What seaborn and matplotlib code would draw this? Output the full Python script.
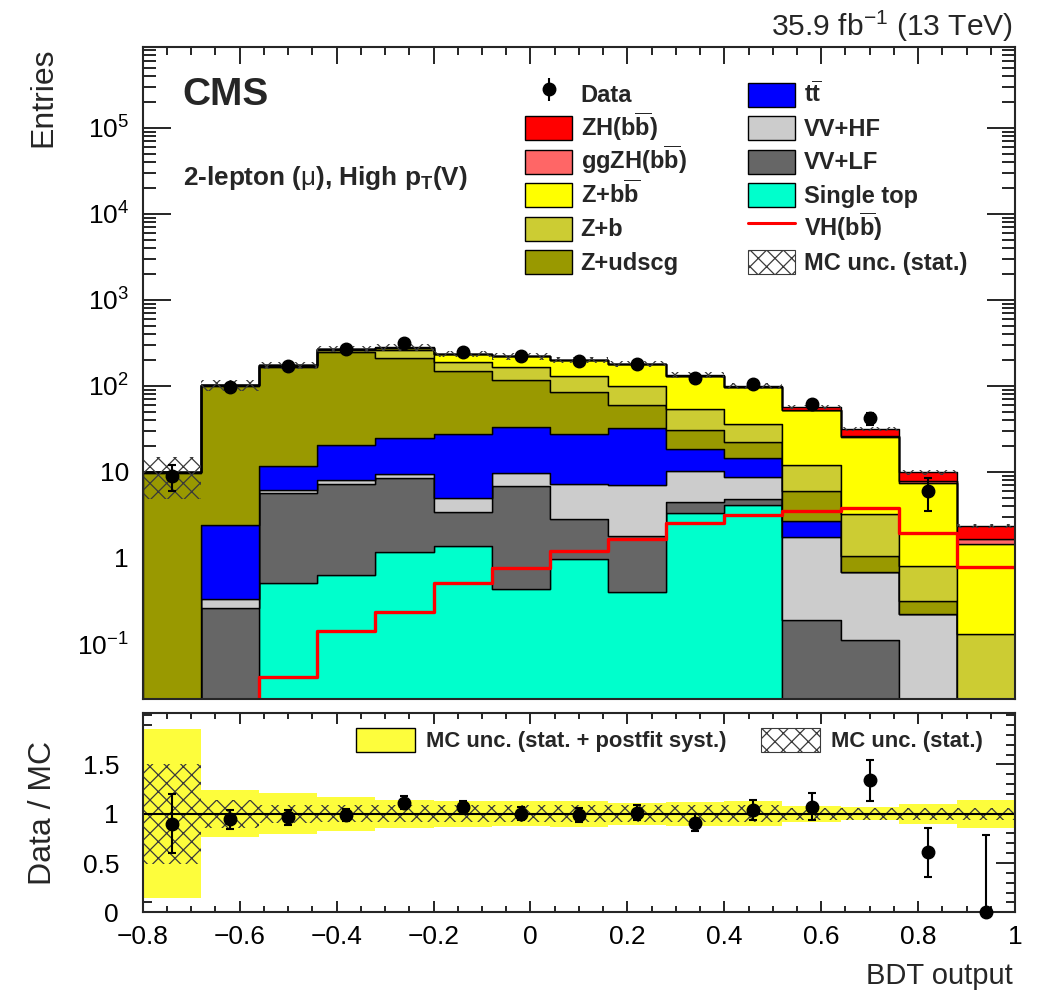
import numpy as np
import pandas as pd
import matplotlib
matplotlib.use("Agg")
import matplotlib.pyplot as plt
from matplotlib.patches import Patch, Rectangle
from matplotlib.lines import Line2D
from matplotlib.legend_handler import HandlerPatch
from matplotlib.ticker import MultipleLocator, FixedLocator, FuncFormatter, LogLocator, NullFormatter
import seaborn as sns

# ---------------------------------------------------------------- binning
bin_edges = [-0.8, -0.68, -0.56, -0.44, -0.32, -0.2, -0.08, 0.04, 0.16,
             0.28, 0.4, 0.52, 0.64, 0.76, 0.88, 1.0]

# ---------------------------------------------------------------- post-fit yields per bin
zh_bb      = [0, 0, 0.04, 0.13, 0.2, 0.45, 0.7, 1.1, 1.5, 2.3, 2.8, 4.3, 5.0, 2.0, 0.71]
ggzh_bb    = [0, 0, 0.01, 0.02, 0.03, 0.06, 0.1, 0.15, 0.2, 0.3, 0.35, 0.5, 0.6, 0.47, 0.21]
z_bb       = [0.1, 0.5, 3.0, 8.0, 17.0, 47.0, 54.0, 67.7, 77.3, 77.8, 60.3, 40.2, 22.5, 6.58, 1.31]
z_b        = [0.2, 1.2, 5.0, 15.0, 54.0, 40.0, 49.0, 47.3, 40.3, 22.8, 14.2, 6.0, 2.23, 0.49, 0.13]
z_udscg    = [9.7, 97.6, 154.3, 224.4, 183.2, 119.8, 83.6, 56.3, 26.9, 12.1, 7.9, 3.32, 0.37, 0.09, 0]
ttbar      = [0, 2.08, 5.5, 12.6, 15.4, 22.3, 23.7, 20.1, 25.7, 8.4, 5.65, 0.92, 0, 0, 0]
vv_hf      = [0, 0.072, 0.41, 0.67, 0.95, 1.55, 2.79, 4.51, 5.26, 5.8, 3.93, 1.58, 0.57, 0.225, 0]
vv_lf      = [0, 0.265, 5.25, 6.7, 7.28, 2.03, 6.43, 1.85, 1.4, 1.11, 0.72, 0.19, 0.11, 0, 0]
single_top = [0, 0, 0.51, 0.63, 1.17, 1.37, 0.44, 0.97, 0.4, 3.37, 4.1, 0, 0, 0, 0]

# unstacked signal template
vh_bb = [0, 0, 0.041, 0.14, 0.234, 0.508, 0.773, 1.2, 1.68, 2.58, 3.16, 3.49, 3.78, 1.94, 0.79]

# observed events
data_counts = [9, 96, 168, 265, 311, 250, 221, 197, 181, 122, 104, 61, 42, 6, 0]
zero_count_upper = 1.84  # Poisson upper error for an empty bin

# relative MC uncertainties
mc_stat_unc = [0.51, 0.14, 0.09, 0.085, 0.085, 0.085, 0.085, 0.085, 0.085, 0.085, 0.085, 0.06, 0.06, 0.06, 0.06]
mc_syst_unc = [0.86, 0.24, 0.21, 0.17, 0.14, 0.13, 0.125, 0.13, 0.11, 0.12, 0.125, 0.08, 0.065, 0.10, 0.14]

# processes, listed from top of the stack to the bottom
process_keys = ["zh", "ggzh", "zbb", "zb", "zudscg", "tt", "vvhf", "vvlf", "stop"]
process_yields = [zh_bb, ggzh_bb, z_bb, z_b, z_udscg, ttbar, vv_hf, vv_lf, single_top]
process_labels = [r"ZH(b$\overline{\mathbf{b}}$)", r"ggZH(b$\overline{\mathbf{b}}$)",
                  r"Z+b$\overline{\mathbf{b}}$", "Z+b", "Z+udscg",
                  r"t$\overline{\mathbf{t}}$", "VV+HF", "VV+LF", "Single top"]
process_colors = ["#ff0000", "#ff6666", "#ffff00", "#cccc33", "#999900",
                  "#0000ff", "#cccccc", "#666666", "#00ffcc"]

# ---------------------------------------------------------------- style
sns.set_theme(style="ticks")
plt.rcParams.update({
    "font.family": ["Liberation Sans", "DejaVu Sans"],
    "mathtext.fontset": "custom",
    "mathtext.rm": "Liberation Sans",
    "mathtext.it": "Liberation Sans:italic",
    "mathtext.bf": "Liberation Sans:bold",
    "mathtext.sf": "Liberation Sans",
    "axes.linewidth": 1.5,
    "hatch.linewidth": 0.9,
    "axes.unicode_minus": True,
    "xtick.color": "black",
    "ytick.color": "black",
})

edges = np.array(bin_edges)
centers = 0.5 * (edges[:-1] + edges[1:])
widths = np.diff(edges)
nbins = len(centers)

long_df = pd.DataFrame({
    "bdt": np.tile(centers, len(process_keys)),
    "events": np.concatenate([np.asarray(v, float) for v in process_yields]),
    "process": np.repeat(process_keys, nbins),
})
palette = dict(zip(process_keys, process_colors))

total = np.sum([np.asarray(v, float) for v in process_yields], axis=0)
stat = np.asarray(mc_stat_unc)
syst = np.asarray(mc_syst_unc)
data = np.asarray(data_counts, float)
err_lo = np.sqrt(data)
err_hi = np.where(data > 0, np.sqrt(data), zero_count_upper)

fig = plt.figure(figsize=(10.38, 9.93), dpi=100)
ax = fig.add_axes([0.1375, 0.2958, 0.8404, 0.6566])
rax = fig.add_axes([0.1375, 0.0813, 0.8404, 0.2004])

# ---------------------------------------------------------------- main panel
sns.histplot(data=long_df, x="bdt", weights="events", hue="process",
             hue_order=process_keys, palette=palette, bins=list(bin_edges),
             multiple="stack", element="step", fill=True, alpha=1,
             edgecolor="black", linewidth=1.0, legend=False, ax=ax)

vh_df = pd.DataFrame({"bdt": centers, "events": vh_bb})
sns.histplot(data=vh_df, x="bdt", weights="events", bins=list(bin_edges),
             element="step", fill=False, color="#ff0000", linewidth=2.4, ax=ax)

ax.bar(centers, 2 * stat * total, bottom=total * (1 - stat), width=widths,
       fill=False, hatch="xx", edgecolor="#3a3a3a", linewidth=0)

has_data = data > 0
ax.errorbar(centers[has_data], data[has_data], yerr=np.sqrt(data[has_data]),
            fmt="o", color="black", ms=9, elinewidth=1.5, capsize=3, capthick=1.5)

ax.set_yscale("log")
ax.set_xlim(-0.8, 1.0)
ax.set_ylim(0.0228, 8.6e5)
ax.set_xlabel("")
ax.set_ylabel("Entries", fontsize=23, loc="top")
ax.yaxis.set_label_coords(-0.097, 1.0)

ax.xaxis.set_major_locator(MultipleLocator(0.2))
ax.xaxis.set_minor_locator(MultipleLocator(0.05))
ax.yaxis.set_major_locator(LogLocator(base=10, numticks=20))
ax.yaxis.set_minor_locator(LogLocator(base=10, subs=np.arange(2, 10), numticks=20))
ax.yaxis.set_minor_formatter(NullFormatter())


def log_label(v, pos):
    e = int(round(np.log10(v)))
    if e == 0:
        return "1"
    if e == 1:
        return "10"
    return r"$10^{%d}$" % e


ax.yaxis.set_major_formatter(FuncFormatter(log_label))
ax.tick_params(which="both", direction="in", top=True, right=True,
               labelbottom=False, width=1.2, labelsize=19)
ax.tick_params(axis="y", which="major", length=20, pad=10)
ax.tick_params(axis="y", which="minor", length=9.5)
ax.tick_params(axis="x", which="major", length=12)
ax.tick_params(axis="x", which="minor", length=6)
for s in ax.spines.values():
    s.set_visible(True)

ax.text(0.046, 0.9115, "CMS", transform=ax.transAxes, fontsize=28,
        fontweight="bold", va="baseline")
ax.text(0.046, 0.789, r"2-lepton ($\mathrm{\mu}$), High p$_{\mathbf{T}}$(V)",
        transform=ax.transAxes, fontsize=18.8, fontweight="bold", va="baseline")
fig.text(1013 / 1038, 1 - 36 / 993, r"35.9 fb$^{-1}$ (13 TeV)", ha="right",
         va="baseline", fontsize=21.6)


# legend boxes: fixed-height rectangles centred in a taller row
def make_box(box_em):
    def _box(legend, orig_handle, xdescent, ydescent, width, height, fontsize):
        h = box_em * fontsize
        return Rectangle((-xdescent, -ydescent + (height - h) / 2), width, h)
    return _box


leg_font = {"family": "Liberation Sans", "weight": "bold", "size": 17}
data_proxy = ax.errorbar([np.nan], [np.nan], yerr=[1.0], fmt="o", color="black",
                         ms=9, elinewidth=1.5, capsize=0)
patch_handles = [Patch(facecolor=c, edgecolor="black", linewidth=1.0) for c in process_colors]
col1_handles = [data_proxy] + patch_handles[:5]
col1_labels = ["Data"] + process_labels[:5]
col2_handles = patch_handles[5:] + [
    Line2D([], [], color="#ff0000", linewidth=2.2),
    Patch(facecolor="white", edgecolor="#3a3a3a", hatch="xx", linewidth=0.8),
]
col2_labels = process_labels[5:] + [r"VH(b$\overline{\mathbf{b}}$)", "MC unc. (stat.)"]

leg_kw = dict(prop=leg_font, frameon=False, loc="center left", borderpad=0,
              borderaxespad=0, handlelength=2.0, handleheight=2.0,
              handletextpad=0.35, labelspacing=-0.13,
              handler_map={Patch: HandlerPatch(patch_func=make_box(1.02))})
leg1 = ax.legend(col1_handles, col1_labels, bbox_to_anchor=(0.4383, 0.7988), **leg_kw)
ax.add_artist(leg1)
ax.legend(col2_handles, col2_labels, bbox_to_anchor=(0.6939, 0.7988), **leg_kw)

# ---------------------------------------------------------------- ratio panel
ratio = data / total
rax.bar(centers, 2 * syst, bottom=1 - syst, width=widths, color="#fdfd3c", linewidth=0)
rax.bar(centers, 2 * stat, bottom=1 - stat, width=widths, fill=False, hatch="xx",
        edgecolor="#3a3a3a", linewidth=0)
rax.axhline(1.0, color="black", linewidth=1.5)
rax.errorbar(centers, ratio, yerr=[err_lo / total, err_hi / total], fmt="o",
             color="black", ms=9, elinewidth=1.5, capsize=3, capthick=1.5,
             clip_on=False, zorder=5)

rax.set_xlim(-0.8, 1.0)
rax.set_ylim(0.0, 2.02)
rax.xaxis.set_major_locator(MultipleLocator(0.2))
rax.xaxis.set_minor_locator(MultipleLocator(0.05))
rax.yaxis.set_major_locator(FixedLocator([0.0, 0.5, 1.0, 1.5]))
rax.yaxis.set_minor_locator(MultipleLocator(0.1))


def plain_label(v, pos):
    v = round(v, 6)
    return f"{v:g}".replace("-", "\u2212")


rax.xaxis.set_major_formatter(FuncFormatter(plain_label))
rax.yaxis.set_major_formatter(FuncFormatter(plain_label))
rax.tick_params(which="both", direction="in", top=True, right=True, width=1.2, labelsize=19)
rax.tick_params(axis="y", which="major", length=14, pad=17)
rax.tick_params(axis="y", which="minor", length=6.5)
rax.tick_params(axis="x", which="major", length=8, pad=9)
rax.tick_params(axis="x", which="minor", length=4.5)
for s in rax.spines.values():
    s.set_visible(True)

rax.set_ylabel("Data / MC", fontsize=23)
rax.yaxis.set_label_coords(-0.097, 0.5)
rax.set_xlabel("BDT output", fontsize=21, loc="right")
rax.xaxis.set_label_coords(0.9977, -0.25)

ratio_font = {"family": "Liberation Sans", "weight": "bold", "size": 15.8}
rleg_kw = dict(prop=ratio_font, frameon=False, loc="center left", borderpad=0,
               borderaxespad=0, handlelength=2.7, handleheight=1.6, handletextpad=0.5,
               handler_map={Patch: HandlerPatch(patch_func=make_box(1.1))})
rleg1 = rax.legend([Patch(facecolor="#fdfd3c", edgecolor="black", linewidth=1.0)],
                   ["MC unc. (stat. + postfit syst.)"], bbox_to_anchor=(0.2445, 0.866), **rleg_kw)
rax.add_artist(rleg1)
rax.legend([Patch(facecolor="white", edgecolor="#3a3a3a", hatch="xx", linewidth=0.8)],
           ["MC unc. (stat.)"], bbox_to_anchor=(0.709, 0.866), **rleg_kw)

fig.savefig("out.png", dpi=100)
